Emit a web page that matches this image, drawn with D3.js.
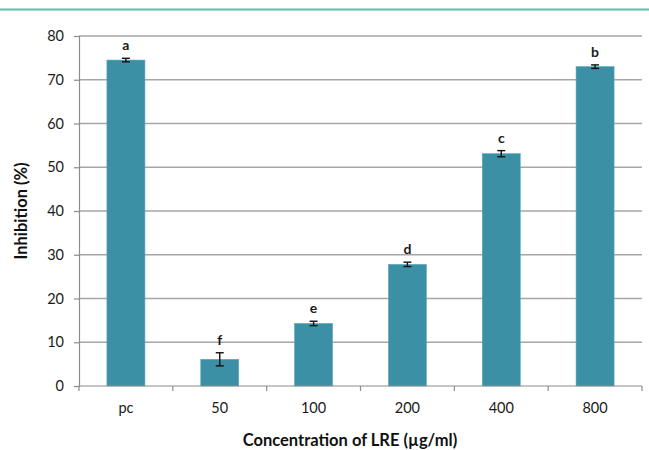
<!DOCTYPE html>
<html>
<head>
<meta charset="utf-8">
<script src="https://cdn.jsdelivr.net/npm/d3@7"></script>
<style>
  html, body { margin: 0; padding: 0; background: #fff; }
  svg { display: block; }
  text { font-family: Lato, "Open Sans", sans-serif; }
</style>
</head>
<body>
<svg id="chart" width="649" height="450"></svg>
<script>
const categories = ["pc", "50", "100", "200", "400", "800"];
const values = [74.5, 6.1, 14.3, 27.8, 53.1, 73.0];
const errors = [0.4, 1.5, 0.5, 0.5, 0.7, 0.4];
const letters = ["a", "f", "e", "d", "c", "b"];
const yTicks = [0, 10, 20, 30, 40, 50, 60, 70, 80];

const svg = d3.select("#chart");
const mLeft = 79, mRight = 642, mTop = 36, mBottom = 386;

// decorative top line
svg.append("line").attr("x1", 0).attr("x2", 649).attr("y1", 9.5).attr("y2", 9.5)
  .attr("stroke", "#5cbfab").attr("stroke-width", 2);

const x = d3.scaleBand().domain(categories).range([mLeft, mRight])
  .paddingInner(0.595).paddingOuter(0.2975);
const y = d3.scaleLinear().domain([0, 80]).range([mBottom, mTop]);

// gridlines
svg.append("g").selectAll("line").data(yTicks.filter(d => d > 0)).join("line")
  .attr("x1", mLeft).attr("x2", mRight)
  .attr("y1", d => y(d)).attr("y2", d => y(d))
  .attr("stroke", "#a6a6a6").attr("stroke-width", 1.5);

// y axis
const yAxis = d3.axisLeft(y).tickValues(yTicks).tickSize(5).tickPadding(10);
const gy = svg.append("g").attr("transform", `translate(${mLeft},0)`).call(yAxis);
gy.select(".domain").attr("stroke", "#8c8c8c").attr("stroke-width", 1.2);
gy.selectAll(".tick line").attr("stroke", "#8c8c8c").attr("stroke-width", 1.2);
gy.selectAll(".tick text").attr("font-size", 14.5).attr("fill", "#1a1a1a");

// bars
svg.append("g").selectAll("rect").data(categories).join("rect")
  .attr("x", d => x(d)).attr("width", x.bandwidth())
  .attr("y", (d, i) => y(values[i])).attr("height", (d, i) => y(0) - y(values[i]))
  .attr("fill", "#3b90a6").attr("stroke", "#5aa8bb").attr("stroke-width", 0.6);

// x axis
const gx = svg.append("g").attr("transform", `translate(0,${mBottom})`);
gx.append("line").attr("x1", mLeft).attr("x2", mRight).attr("y1", 0).attr("y2", 0)
  .attr("stroke", "#8c8c8c").attr("stroke-width", 1.2);
const boundaries = categories.map(c => x(c) - x.step() * x.paddingInner() / 2).concat([mRight]);
boundaries[0] = mLeft;
gx.selectAll("line.tk").data(boundaries).join("line").attr("class", "tk")
  .attr("x1", d => d).attr("x2", d => d).attr("y1", 0).attr("y2", 5)
  .attr("stroke", "#8c8c8c").attr("stroke-width", 1.2);
gx.selectAll("text").data(categories).join("text")
  .attr("x", d => x(d) + x.bandwidth() / 2).attr("y", 27)
  .attr("text-anchor", "middle").attr("font-size", 14.5).attr("fill", "#1a1a1a")
  .text(d => d);

// error bars
const eg = svg.append("g").attr("stroke", "#111").attr("stroke-width", 1.4);
categories.forEach((c, i) => {
  const cx = x(c) + x.bandwidth() / 2;
  const y1 = y(values[i] + errors[i]), y2 = y(values[i] - errors[i]);
  eg.append("line").attr("x1", cx).attr("x2", cx).attr("y1", y1).attr("y2", y2);
  eg.append("line").attr("x1", cx - 4).attr("x2", cx + 4).attr("y1", y1).attr("y2", y1);
  eg.append("line").attr("x1", cx - 4).attr("x2", cx + 4).attr("y1", y2).attr("y2", y2);
});

// letters
svg.append("g").selectAll("text").data(categories).join("text")
  .attr("x", d => x(d) + x.bandwidth() / 2)
  .attr("y", (d, i) => y(values[i] + errors[i]) - 8)
  .attr("text-anchor", "middle").attr("font-size", 14).attr("font-weight", "bold").attr("fill", "#1a1a1a")
  .text((d, i) => letters[i]);

// axis titles
svg.append("text").attr("x", 350).attr("y", 446).attr("text-anchor", "middle")
  .attr("font-size", 16.5).attr("font-weight", "bold").attr("fill", "#111")
  .text("Concentration of LRE (µg/ml)");
svg.append("text").attr("transform", `translate(27,${(mTop + mBottom) / 2}) rotate(-90)`)
  .attr("text-anchor", "middle").attr("font-size", 16.5).attr("font-weight", "bold").attr("fill", "#111")
  .text("Inhibition (%)");
</script>
</body>
</html>
